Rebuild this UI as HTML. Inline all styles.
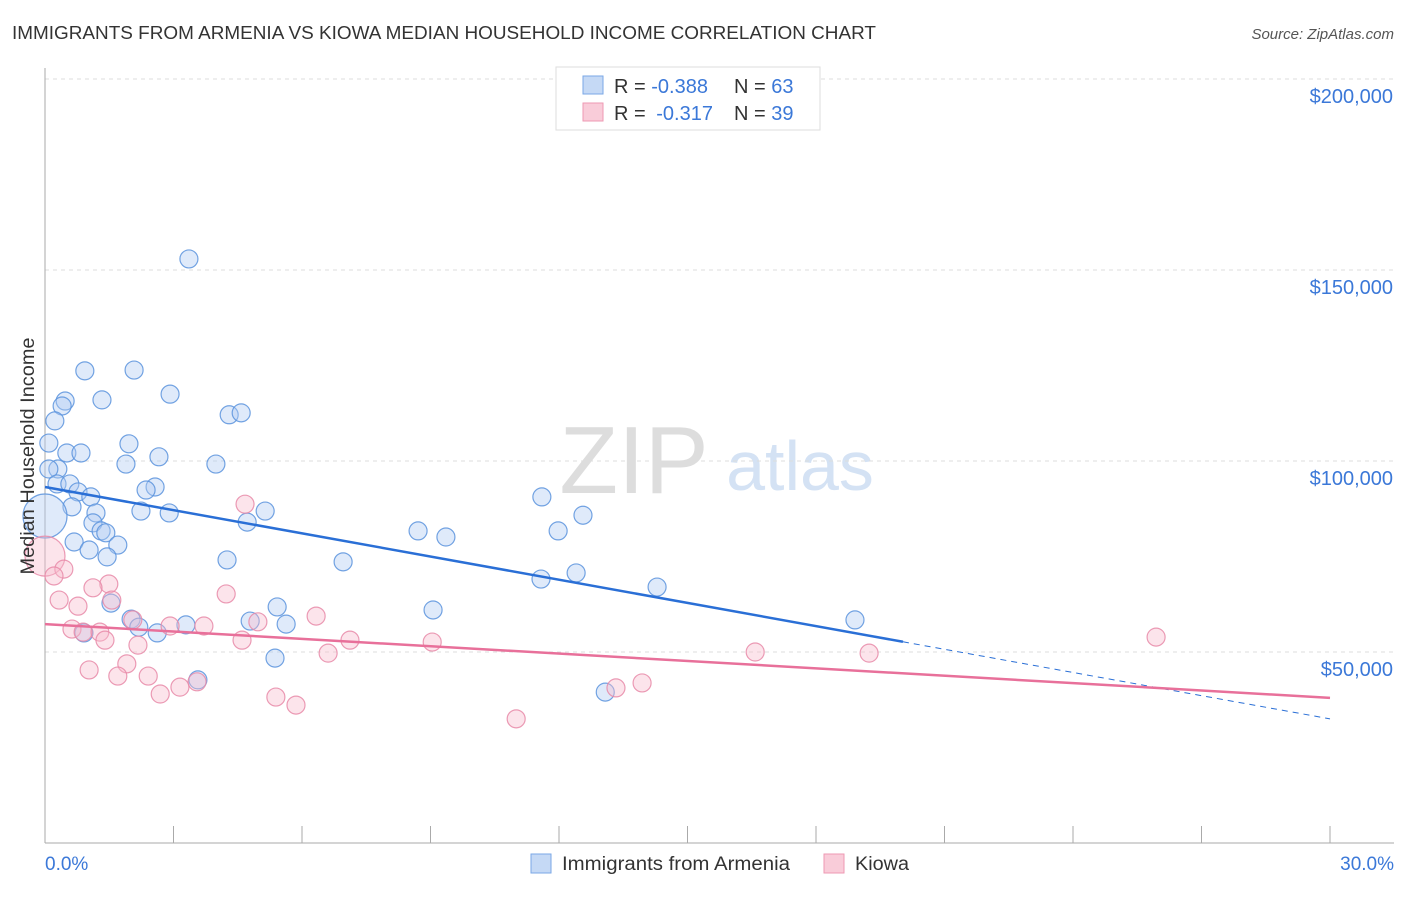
<!DOCTYPE html>
<html><head><meta charset="utf-8"><style>
body{margin:0;background:#fff;font-family:"Liberation Sans",sans-serif;}
svg text{font-family:"Liberation Sans",sans-serif;}
</style></head><body>
<svg id="chart" width="1406" height="892" xmlns="http://www.w3.org/2000/svg">
<text x="12" y="39" font-size="18" fill="#333" textLength="864" lengthAdjust="spacingAndGlyphs">IMMIGRANTS FROM ARMENIA VS KIOWA MEDIAN HOUSEHOLD INCOME CORRELATION CHART</text>
<text x="1394" y="39" font-size="15" fill="#555" text-anchor="end" font-style="italic">Source: ZipAtlas.com</text>
<text x="634" y="493" font-size="96" fill="#ddd" font-family="Liberation Serif" text-anchor="middle">ZIP</text>
<text x="800" y="490" font-size="70" fill="#d4e2f4" text-anchor="middle">atlas</text>
<g id="grid"></g><g id="axes"></g><g id="marks"></g>
<text transform="translate(34,456) rotate(-90)" font-size="19" fill="#333" text-anchor="middle" textLength="237" lengthAdjust="spacingAndGlyphs">Median Household Income</text>
<text x="45" y="870" font-size="19" fill="#3b78d8">0.0%</text>
<text x="1394" y="870" font-size="19" fill="#3b78d8" text-anchor="end">30.0%</text>
<g>
<rect x="556" y="67" width="264" height="63" fill="#fff" stroke="#ddd"/>
<rect x="583" y="76" width="20" height="18" fill="#c5d9f5" stroke="#7aa7e6"/>
<rect x="583" y="103" width="20" height="18" fill="#f9ccd9" stroke="#ee99b3"/>
<text x="614" y="93" font-size="20" fill="#333">R = <tspan fill="#3b78d8">-0.388</tspan><tspan x="734">N = </tspan><tspan fill="#3b78d8">63</tspan></text>
<text x="614" y="120" font-size="20" fill="#333">R = <tspan fill="#3b78d8" dx="5">-0.317</tspan><tspan x="734">N = </tspan><tspan fill="#3b78d8">39</tspan></text>
</g>
<g>
<rect x="531" y="854" width="20" height="19" fill="#c5d9f5" stroke="#7aa7e6"/>
<text x="562" y="870" font-size="19" fill="#333" textLength="228" lengthAdjust="spacingAndGlyphs">Immigrants from Armenia</text>
<rect x="824" y="854" width="20" height="19" fill="#f9ccd9" stroke="#ee99b3"/>
<text x="855" y="870" font-size="19" fill="#333" textLength="54" lengthAdjust="spacingAndGlyphs">Kiowa</text>
</g>
</svg>
<script>
const yTicks=[50000,100000,150000,200000];
const yTickLabels=["$50,000","$100,000","$150,000","$200,000"];
const xTicks=[0,3,6,9,12,15,18,21,24,27,30];
const blueX=[3.36,0.93,2.08,2.92,0.47,1.33,0.40,4.30,4.58,0.23,0.09,1.96,0.51,0.84,2.66,1.89,3.99,0.30,0.09,0.28,0.58,2.57,2.36,0.77,1.07,11.6,0.63,2.24,2.90,5.14,1.19,12.56,0,1.12,4.72,1.31,1.42,8.71,9.36,11.98,0.68,1.70,1.03,1.45,4.25,6.96,12.4,11.58,14.29,1.54,5.42,9.06,2.01,4.79,18.91,5.63,2.19,3.29,2.62,0.91,5.37,3.57,13.08];
const blueY=[152900,123600,123800,117500,115700,116000,114400,112100,112600,110500,104700,104500,102100,102100,101100,99200,99200,97900,97900,94000,94000,93200,92400,91900,90600,90600,88000,86900,86400,86900,86400,85800,85600,83800,84000,81700,81200,81700,80100,81700,78800,78000,76700,74900,74100,73600,70700,69100,67000,62800,61800,61000,58600,58100,58400,57300,56500,57100,55000,55000,48400,42700,39500];
const blueR=[9,9,9,9,9,9,9,9,9,9,9,9,9,9,9,9,9,9,9,9,9,9,9,9,9,9,9,9,9,9,9,9,22,9,9,9,9,9,9,9,9,9,9,9,9,9,9,9,9,9,9,9,9,9,9,9,9,9,9,9,9,9,9];
const pinkX=[0,0.44,0.21,1.49,1.12,4.23,0.33,1.56,0.77,4.67,6.33,2.05,4.97,2.92,3.71,0.63,1.28,0.89,1.40,4.60,7.12,9.04,2.17,6.61,16.58,19.24,25.94,1.91,1.03,1.70,2.41,3.55,13.94,3.15,13.33,2.69,5.39,5.86,11.0];
const pinkY=[75100,71700,69900,67800,66800,65200,63600,63600,62000,88700,59400,58400,57900,56800,56800,56000,55200,55200,53100,53100,53100,52600,51800,49700,50000,49700,53900,46900,45300,43700,43700,42200,41900,40800,40600,39000,38200,36100,32500];
const blueTrend=[93200,32500]; const blueSolidEnd=20.03;
const pinkTrend=[57300,38000];
const X=v=>45+v/30*1285, Y=v=>843-v/50000*191;
const NS="http://www.w3.org/2000/svg";
function mk(t,a,p){const e=document.createElementNS(NS,t);for(const k in a)e.setAttribute(k,a[k]);p.appendChild(e);return e;}
const grid=document.getElementById('grid'),axes=document.getElementById('axes'),marks=document.getElementById('marks');
yTicks.forEach((v,i)=>{
 const l=mk('line',{x1:45,x2:1394,y1:Y(v),y2:Y(v),stroke:'#ddd','stroke-dasharray':'4,4'},grid);
 
 
 const t=mk('text',{x:1393,y:Y(v)+24,'font-size':20,fill:'#3b78d8','text-anchor':'end'},axes);
 t.textContent=yTickLabels[i];
 
 
});
const ya=mk('line',{x1:45,x2:45,y1:68,y2:843,stroke:'#aaa'},axes);


const xa=mk('line',{x1:45,x2:1394,y1:843,y2:843,stroke:'#aaa'},axes);


xTicks.forEach(v=>{const t=mk('line',{x1:X(v),x2:X(v),y1:826,y2:843,stroke:'#aaa'},axes);
 
 });
function dots(xs,ys,rs,fill,stroke,name){xs.forEach((x,i)=>{const c=mk('circle',{cx:X(x),cy:Y(ys[i]),r:rs[i],fill:fill,'fill-opacity':0.4,stroke:stroke,'stroke-opacity':0.85,'stroke-width':1.2},marks);
 
 });}
dots(blueX,blueY,blueR,'#aecbf2','#5b93dd','armenia-point');
const pr=pinkX.map((x,i)=>i==0?20:9);
dots(pinkX,pinkY,pr,'#f7bccd','#e88aa8','kiowa-point');
const by=x=>blueTrend[0]+(blueTrend[1]-blueTrend[0])*x/30;
const b1=mk('line',{x1:X(0),y1:Y(by(0)),x2:X(blueSolidEnd),y2:Y(by(blueSolidEnd)),stroke:'#2a6fd6','stroke-width':2.5},marks);


const b2=mk('line',{x1:X(blueSolidEnd),y1:Y(by(blueSolidEnd)),x2:X(30),y2:Y(by(30)),stroke:'#2a6fd6','stroke-width':1,'stroke-dasharray':'6,5'},marks);


const p1=mk('line',{x1:X(0),y1:Y(pinkTrend[0]),x2:X(30),y2:Y(pinkTrend[1]),stroke:'#e8709a','stroke-width':2.5},marks);


</script>
</body></html>
